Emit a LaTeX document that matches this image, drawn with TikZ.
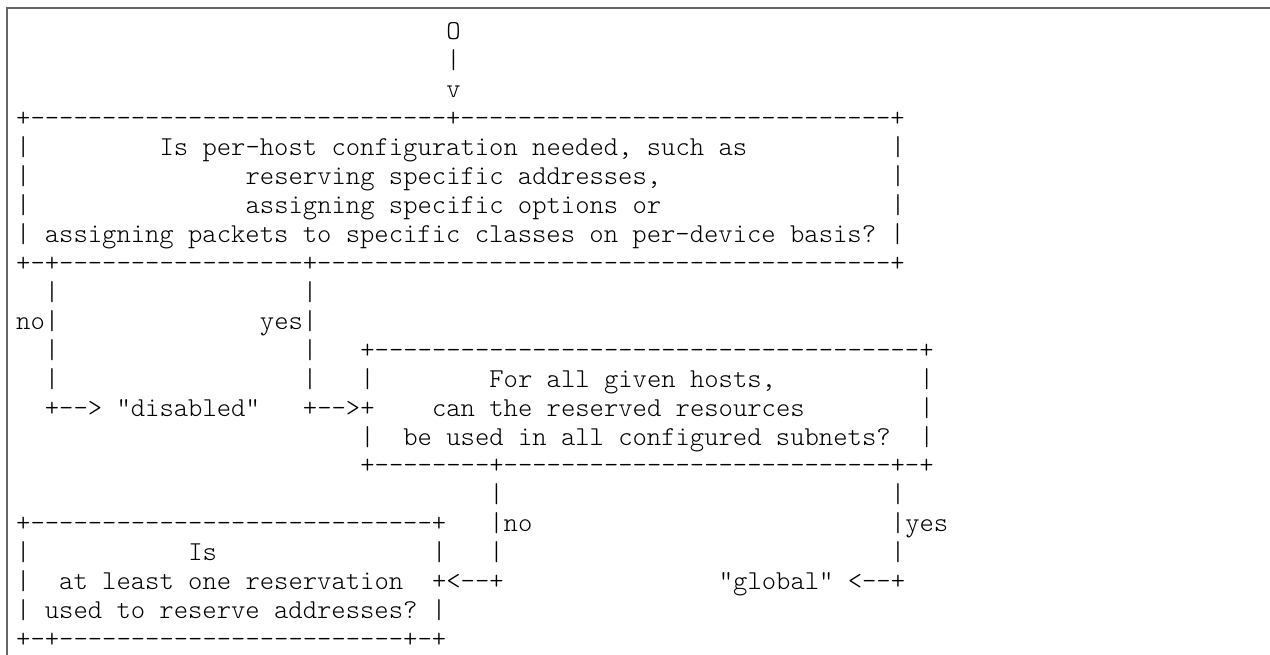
\documentclass[tikz,border=0pt]{standalone}
\usepackage{fontspec}
\setmonofont{lmmonolt10-regular.otf}

\tikzset{
  ascii/.style={inner sep=0pt, anchor=base west,
    font=\fontsize{27.3}{29}\selectfont\ttfamily\frenchspacing},
  codeframe/.style={draw=black!60, line width=1.6pt}
}
\newcommand{\dten}{----------}

\begin{document}
\begin{tikzpicture}[x=14.34pt, y=-29pt, every node/.style={ascii}]
    \useasboundingbox (-1.116,-1.345) rectangle (87.45,21.241);
    \draw[codeframe] (-0.628,21.241) -- (-0.628,-1.069) -- (87.45,-1.069);

    % entry
    \node(start) at (30, 0) {O};
    \node(startbar) at (30, 1) {|};
    \node(startarr) at (30, 2) {v};

    % per-host question
    \node(hostTop) at (0, 3) {+\dten\dten---------+\dten\dten\dten+};
    \node(hostAl) at (0, 4) {|};
    \node(hostA) at (10, 4) {Is per-host configuration needed, such as};
    \node(hostAr) at (61, 4) {|};
    \node(hostBl) at (0, 5) {|};
    \node(hostB) at (16, 5) {reserving specific addresses,};
    \node(hostBr) at (61, 5) {|};
    \node(hostCl) at (0, 6) {|};
    \node(hostC) at (16, 6) {assigning specific options or};
    \node(hostCr) at (61, 6) {|};
    \node(hostD) at (0, 7) {| assigning packets to specific classes on per-device basis? |};
    \node(hostBot) at (0, 8) {+-+\dten-------+\dten\dten\dten\dten+};

    \node(noA1) at (2, 9) {|};
    \node(yesA1) at (20, 9) {|};
    \node(noA2) at (0, 10) {no|};
    \node(yesA2) at (17, 10) {yes|};
    \node(noA3) at (2, 11) {|};
    \node(yesA3) at (20, 11) {|};
    \node(noA4) at (2, 12) {|};
    \node(yesA4) at (20, 12) {|};
    \node(noA5) at (2, 13) {+-->};
    \node(disabled) at (7, 13) {"disabled"};
    \node(yesA5) at (20, 13) {+-->+};

    % subnets question
    \node(subTop) at (24, 11) {+\dten\dten\dten--------+};
    \node(subAl) at (24, 12) {|};
    \node(subA) at (33, 12) {For all given hosts,};
    \node(subAr) at (63, 12) {|};
    \node(subB) at (29, 13) {can the reserved resources};
    \node(subBr) at (63, 13) {|};
    \node(subCl) at (24, 14) {|};
    \node(subC) at (27, 14) {be used in all configured subnets?};
    \node(subCr) at (63, 14) {|};
    \node(subBot) at (24, 15) {+--------+\dten\dten-------+-+};

    \node(noB1) at (33, 16) {|};
    \node(yesB1) at (61, 16) {|};
    \node(noB2) at (33, 17) {|no};
    \node(yesB2) at (61, 17) {|yes};
    \node(noB3) at (33, 18) {|};
    \node(yesB3) at (61, 18) {|};
    \node(noB4) at (29, 19) {+<--+};
    \node(global) at (49, 19) {"global" <--+};

    % reservation question
    \node(resTop) at (0, 17) {+\dten\dten--------+};
    \node(resAl) at (0, 18) {|};
    \node(resA) at (12, 18) {Is};
    \node(resAr) at (29, 18) {|};
    \node(resBl) at (0, 19) {|};
    \node(resB) at (3, 19) {at least one reservation};
    \node(resC) at (0, 20) {| used to reserve addresses? |};
    \node(resBot) at (0, 21) {+-+\dten\dten----+-+};
\end{tikzpicture}
\end{document}
